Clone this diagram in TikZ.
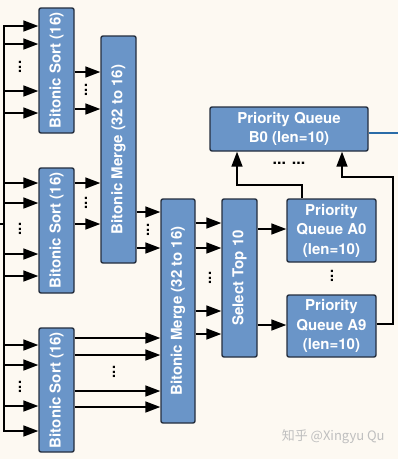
\documentclass[tikz,border=0pt]{standalone}
\usepackage{fontspec}
\setmainfont{TeX Gyre Heros}
\newfontfamily\cjk{Noto Sans CJK SC}
\usetikzlibrary{arrows.meta}
\definecolor{bgcream}{RGB}{253,249,242}
\definecolor{boxblue}{RGB}{106,149,200}
\definecolor{boxedge}{RGB}{36,46,62}
\definecolor{outblue}{RGB}{42,108,168}

\begin{document}
\begin{tikzpicture}[x=1pt,y=-1pt,line width=1.6pt,>={Triangle[length=15pt,width=11pt]},
  blk/.style={draw=boxedge,fill=boxblue,rounded corners=2pt,line width=1.4pt,inner sep=0pt},
  lbl/.style={text=white,font=\bfseries\fontsize{15}{19.5}\selectfont,align=center},
  vlbl/.style={lbl,rotate=90},
  vdots/.style={font=\bfseries\fontsize{15}{15}\selectfont,rotate=90,inner sep=0pt},
  hdots/.style={font=\bfseries\fontsize{16}{16}\selectfont,inner sep=0pt}]
  \fill[bgcream] (0,0) rectangle (398,459);
  \useasboundingbox (0,0) rectangle (398,459);

  % sorting stage
  \node[blk,minimum width=35pt,minimum height=125pt] (sortA) at (56.5,70.5) {};
  \node[vlbl] at (sortA) {Bitonic Sort (16)};
  \node[blk,minimum width=35pt,minimum height=125pt] (sortB) at (56.5,230.5) {};
  \node[vlbl] at (sortB) {Bitonic Sort (16)};
  \node[blk,minimum width=35pt,minimum height=124pt] (sortC) at (56.5,390) {};
  \node[vlbl] at (sortC) {Bitonic Sort (16)};

  % merging stage
  \node[blk,minimum width=35pt,minimum height=227pt] (mergeA) at (118.5,149.5) {};
  \node[vlbl] at (mergeA) {Bitonic Merge (32 to 16)};
  \node[blk,minimum width=34pt,minimum height=224pt] (mergeB) at (178,311) {};
  \node[vlbl] at (mergeB) {Bitonic Merge (32 to 16)};
  \node[blk,minimum width=35pt,minimum height=158pt] (select) at (239.5,278) {};
  \node[vlbl] at (select) {Select Top 10};

  % queues
  \node[blk,lbl,minimum width=89pt,minimum height=63pt] (pqA0) at (331.5,230.5) {Priority\\Queue A0\\(len=10)};
  \node[blk,lbl,minimum width=89pt,minimum height=62pt] (pqA9) at (331.5,326) {Priority\\Queue A9\\(len=10)};
  \node[blk,lbl,minimum width=158pt,minimum height=44pt] (pqB0) at (289,129) {Priority Queue\\B0 (len=10)};

  % input bus
  \coordinate (bus) at (4,0);
  \coordinate (inp) at (0,224);
  \draw[line cap=rect] (bus |- 0,26) -- (bus |- 0,431);
  \draw (inp) -- (bus |- inp);
  \foreach \y in {26,44,91,113}
    \draw[->] (bus |- 0,\y) -- (sortA.west |- 0,\y);
  \foreach \y in {183,203,254,276}
    \draw[->] (bus |- 0,\y) -- (sortB.west |- 0,\y);
  \foreach \y in {345,365,406,431}
    \draw[->] (bus |- 0,\y) -- (sortC.west |- 0,\y);
  \node[vdots] at (20,67) {...};
  \node[vdots] at (20,229) {...};
  \node[vdots] at (20,387) {...};

  % sort -> merge
  \foreach \y in {72,109}
    \draw[->] (sortA.east |- 0,\y) -- (mergeA.west |- 0,\y);
  \foreach \y in {183,224}
    \draw[->] (sortB.east |- 0,\y) -- (mergeA.west |- 0,\y);
  \foreach \y in {338,355,391,407}
    \draw[->] (sortC.east |- 0,\y) -- (mergeB.west |- 0,\y);
  \foreach \y in {212,248}
    \draw[->] (mergeA.east |- 0,\y) -- (mergeB.west |- 0,\y);
  \node[vdots] at (86,90) {...};
  \node[vdots] at (86,203) {...};
  \node[vdots] at (114,372) {...};
  \node[vdots] at (148,230) {...};

  % merge -> select -> queues
  \foreach \y in {223,248,311,334}
    \draw[->] (mergeB.east |- 0,\y) -- (select.west |- 0,\y);
  \node[vdots] at (210,278) {...};
  \draw[->] (select.east |- 0,229) -- (pqA0.west |- 0,229);
  \draw[->] (select.east |- 0,325) -- (pqA9.west |- 0,325);
  \node[vdots] at (332,276) {...};

  % queues -> B0
  \draw[->] (pqA0.north -| 302,0) |- (237,185) -- (pqB0.south -| 237,0);
  \draw[->] (pqA9.east |- 0,324) -| (393,177) -| (pqB0.south -| 342,0);
  \node[hdots] at (289,163) {... ...};
  \draw[outblue,line width=2pt] (pqB0.east |- 0,133) -- (398,133);

  \node[text=black!25,font=\cjk\fontsize{13}{13}\selectfont,anchor=west,inner sep=0pt] (mark) at (281,437) {知乎 @Xingyu Qu};
\end{tikzpicture}
\end{document}
